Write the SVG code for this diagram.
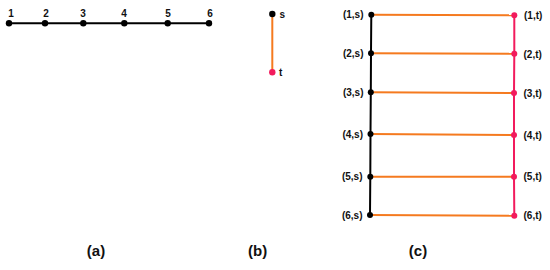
<svg xmlns="http://www.w3.org/2000/svg" width="550" height="270" viewBox="0 0 550 270">
<style>
text{font-family:"Liberation Sans",Arial,sans-serif;font-weight:bold;fill:#111}
.n{font-size:10px}
.c{font-size:15px;text-anchor:middle}
.blk{stroke:#000;stroke-width:2;fill:none}
.org{stroke:#f57a1f;stroke-width:2;fill:none}
.pnk{stroke:#f21b5d;stroke-width:2;fill:none}
.db{fill:#000}
.dp{fill:#f21b5d}
</style>
<rect width="550" height="270" fill="#fff"/>
<g id="connectors">
<line class="blk" x1="9" y1="23.3" x2="209" y2="23.3"/>
<line class="org" x1="272.3" y1="14" x2="272.3" y2="72.3"/>
<polyline class="blk" points="371.3,14.7 371,53.3 370.8,92.3 370.5,134 370.3,176.7 370,215"/>
<polyline class="pnk" points="514.3,15.3 514.3,53.7 514,93 514,135 514,176.7 514.3,215.7"/>
<line class="org" x1="371.3" y1="14.7" x2="514.3" y2="15.3"/>
<line class="org" x1="371" y1="53.3" x2="514.3" y2="53.7"/>
<line class="org" x1="370.8" y1="92.3" x2="514" y2="93"/>
<line class="org" x1="370.5" y1="134" x2="514" y2="135"/>
<line class="org" x1="370.3" y1="176.7" x2="514" y2="176.7"/>
<line class="org" x1="370" y1="215" x2="514.3" y2="215.7"/>
</g>
<g id="a1"><circle class="db" cx="9" cy="23.3" r="3.2"/><text class="n" x="11" y="17" text-anchor="middle">1</text></g>
<g id="a2"><circle class="db" cx="45" cy="23.3" r="3.2"/><text class="n" x="46" y="17" text-anchor="middle">2</text></g>
<g id="a3"><circle class="db" cx="83.3" cy="23.3" r="3.2"/><text class="n" x="83" y="17" text-anchor="middle">3</text></g>
<g id="a4"><circle class="db" cx="124.3" cy="23.3" r="3.2"/><text class="n" x="124" y="17" text-anchor="middle">4</text></g>
<g id="a5"><circle class="db" cx="167.7" cy="23.3" r="3.2"/><text class="n" x="168" y="17" text-anchor="middle">5</text></g>
<g id="a6"><circle class="db" cx="209" cy="23.3" r="3.2"/><text class="n" x="210" y="17" text-anchor="middle">6</text></g>
<g id="bs"><circle class="db" cx="272.3" cy="14" r="3.2"/><text class="n" x="279.5" y="17.5">s</text></g>
<g id="bt"><circle class="dp" cx="272.3" cy="72.3" r="3.2"/><text class="n" x="279" y="76">t</text></g>
<g id="c1s"><circle class="db" cx="371.3" cy="14.7" r="3"/><text class="n" x="363.5" y="18" text-anchor="end">(1,s)</text></g>
<g id="c2s"><circle class="db" cx="371" cy="53.3" r="3"/><text class="n" x="363.5" y="57" text-anchor="end">(2,s)</text></g>
<g id="c3s"><circle class="db" cx="370.8" cy="92.3" r="3"/><text class="n" x="363.5" y="96" text-anchor="end">(3,s)</text></g>
<g id="c4s"><circle class="db" cx="370.5" cy="134" r="3"/><text class="n" x="363" y="137.5" text-anchor="end">(4,s)</text></g>
<g id="c5s"><circle class="db" cx="370.3" cy="176.7" r="3"/><text class="n" x="362.5" y="180" text-anchor="end">(5,s)</text></g>
<g id="c6s"><circle class="db" cx="370" cy="215" r="3"/><text class="n" x="362.5" y="218.5" text-anchor="end">(6,s)</text></g>
<g id="c1t"><circle class="dp" cx="514.3" cy="15.3" r="3"/><text class="n" x="524" y="19">(1,t)</text></g>
<g id="c2t"><circle class="dp" cx="514.3" cy="53.7" r="3"/><text class="n" x="523.5" y="57.5">(2,t)</text></g>
<g id="c3t"><circle class="dp" cx="514" cy="93" r="3"/><text class="n" x="523.5" y="96.5">(3,t)</text></g>
<g id="c4t"><circle class="dp" cx="514" cy="135" r="3"/><text class="n" x="523.5" y="138.5">(4,t)</text></g>
<g id="c5t"><circle class="dp" cx="514" cy="176.7" r="3"/><text class="n" x="523.5" y="180">(5,t)</text></g>
<g id="c6t"><circle class="dp" cx="514.3" cy="215.7" r="3"/><text class="n" x="523.5" y="219">(6,t)</text></g>
<text class="c" x="96" y="256">(a)</text>
<text class="c" x="257.7" y="256">(b)</text>
<text class="c" x="418" y="256">(c)</text>
</svg>
